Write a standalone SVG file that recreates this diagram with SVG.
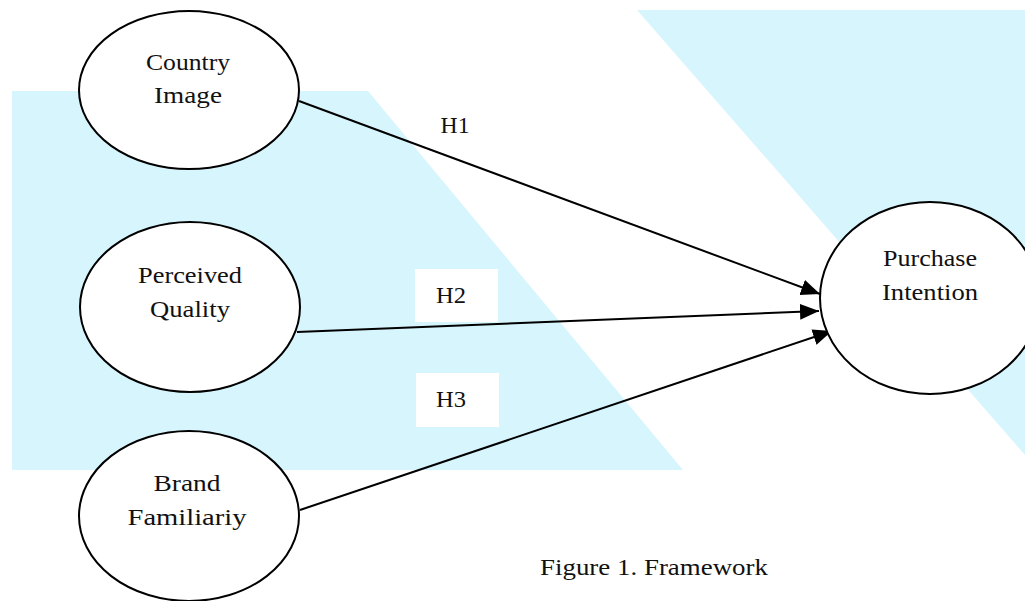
<svg xmlns="http://www.w3.org/2000/svg" width="1025" height="601" viewBox="0 0 1025 601">
<style>
.node ellipse{fill:#fff;stroke:#000;stroke-width:2}
.lbl{font-family:'Liberation Serif',Tinos,'Times New Roman',Times,serif;font-size:24px;fill:#111;text-anchor:middle}
.edge{stroke:#000;stroke-width:2;fill:none}
.bg{fill:#D7F5FD}
</style>
<defs>
<marker id="arr" markerUnits="userSpaceOnUse" markerWidth="22" markerHeight="18" refX="19" refY="8" orient="auto">
<path d="M0,0 L19,8 L0,16 z" fill="#000"/>
</marker>
</defs>
<rect width="1025" height="601" fill="#fff"/>
<g id="background">
<polygon class="bg" points="12,91 368,91 683,470 12,470"/>
<polygon class="bg" points="637,10 1025,10 1025,455"/>
</g>
<g id="connectors">
<line class="edge" x1="299" y1="101" x2="820" y2="294" marker-end="url(#arr)"/>
<line class="edge" x1="297" y1="332" x2="819" y2="311" marker-end="url(#arr)"/>
<line class="edge" x1="300" y1="510" x2="832" y2="331" marker-end="url(#arr)"/>
<text class="lbl" x="455" y="133" textLength="29" lengthAdjust="spacingAndGlyphs">H1</text>
<rect x="415" y="269" width="83" height="53" fill="#fff"/>
<text class="lbl" x="451" y="303" textLength="30" lengthAdjust="spacingAndGlyphs">H2</text>
<rect x="416" y="373" width="83" height="54" fill="#fff"/>
<text class="lbl" x="451" y="407" textLength="30" lengthAdjust="spacingAndGlyphs">H3</text>
</g>
<g id="country-image" class="node">
<ellipse cx="189" cy="90" rx="110" ry="79"/>
<text class="lbl" x="188" y="70" textLength="84" lengthAdjust="spacingAndGlyphs">Country</text>
<text class="lbl" x="188" y="103" textLength="68" lengthAdjust="spacingAndGlyphs">Image</text>
</g>
<g id="perceived-quality" class="node">
<ellipse cx="190" cy="307" rx="110" ry="85"/>
<text class="lbl" x="190" y="283" textLength="104" lengthAdjust="spacingAndGlyphs">Perceived</text>
<text class="lbl" x="190" y="317" textLength="80" lengthAdjust="spacingAndGlyphs">Quality</text>
</g>
<g id="brand-familiariy" class="node">
<ellipse cx="189" cy="516" rx="110" ry="85"/>
<text class="lbl" x="187" y="491" textLength="67" lengthAdjust="spacingAndGlyphs">Brand</text>
<text class="lbl" x="187" y="525" textLength="119" lengthAdjust="spacingAndGlyphs">Familiariy</text>
</g>
<g id="purchase-intention" class="node">
<ellipse cx="930" cy="298" rx="110" ry="96"/>
<text class="lbl" x="930" y="266" textLength="94" lengthAdjust="spacingAndGlyphs">Purchase</text>
<text class="lbl" x="930" y="300" textLength="96" lengthAdjust="spacingAndGlyphs">Intention</text>
</g>
<text class="lbl" x="654" y="575" textLength="228" lengthAdjust="spacingAndGlyphs">Figure 1. Framework</text>
</svg>
